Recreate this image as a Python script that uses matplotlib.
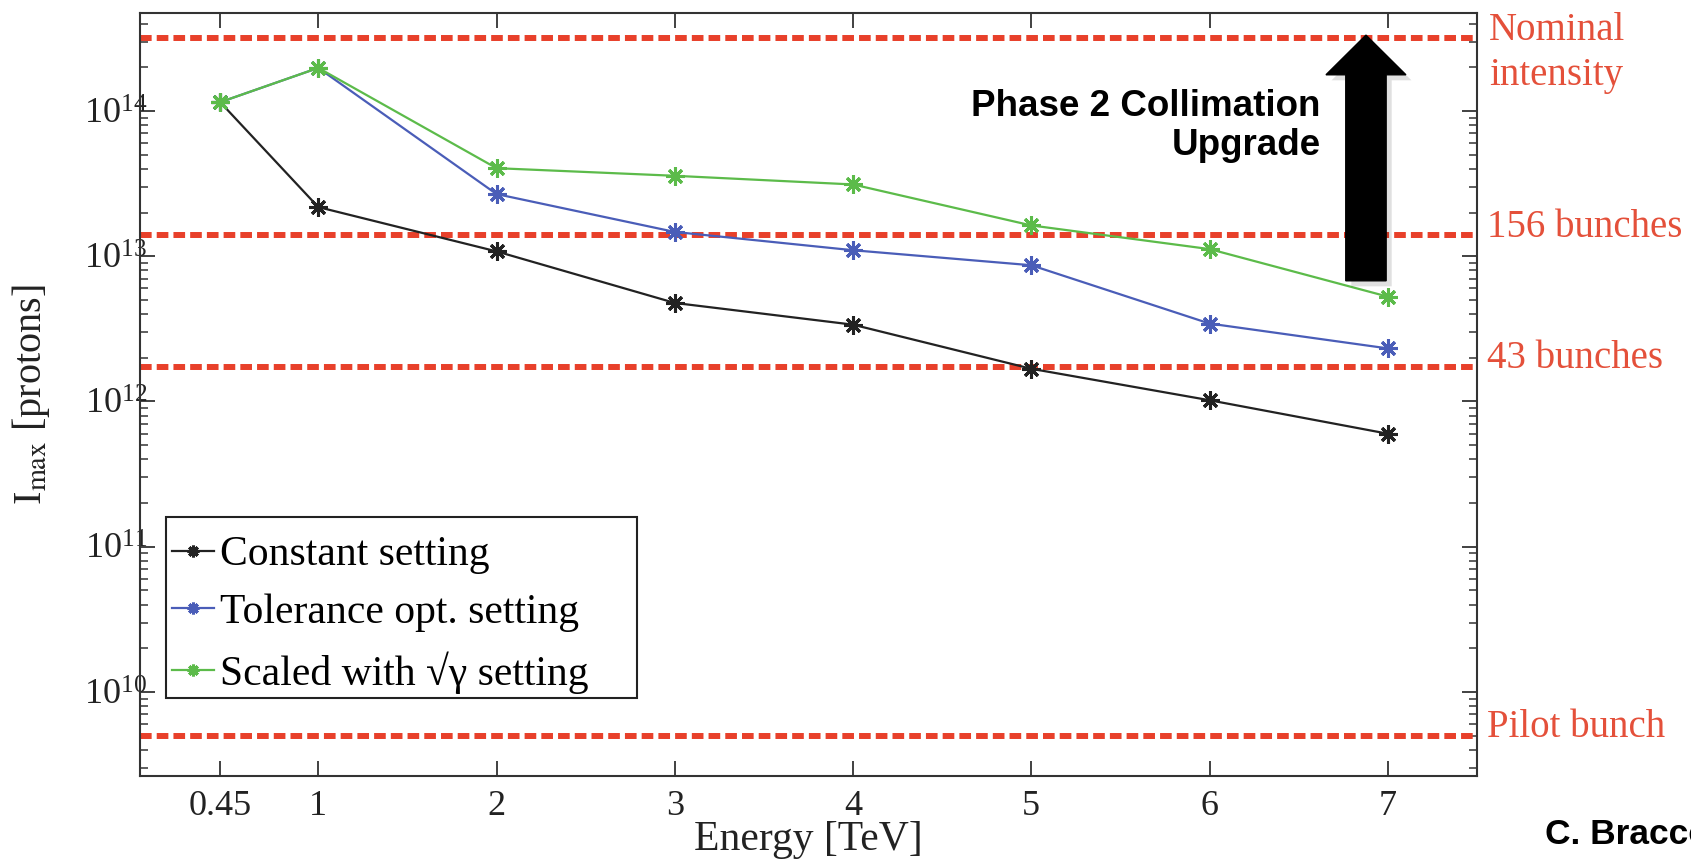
import matplotlib
matplotlib.use('Agg')
import matplotlib.pyplot as plt
import matplotlib.patheffects as pe
from matplotlib.patches import Polygon, Rectangle
from matplotlib.ticker import LogLocator, LogFormatterSciNotation, NullFormatter, FixedLocator, FixedFormatter

# ---- data ----
energy = [0.45, 1, 2, 3, 4, 5, 6, 7]
constant = [1.15e14, 2.18e13, 1.08e13, 4.77e12, 3.38e12, 1.68e12, 1.02e12, 6.0e11]
tolerance = [1.15e14, 1.98e14, 2.68e13, 1.47e13, 1.10e13, 8.67e12, 3.44e12, 2.32e12]
scaled = [1.15e14, 1.98e14, 4.04e13, 3.58e13, 3.12e13, 1.63e13, 1.12e13, 5.27e12]
series_labels = ['Constant setting', 'Tolerance opt. setting', 'Scaled with √γ setting']
ref_levels = [3.2e14, 1.4e13, 1.72e12, 5.0e9]
ref_labels = ['Nominal\nintensity', '156 bunches', '43 bunches', 'Pilot bunch']
x_ticks = [0.45, 1, 2, 3, 4, 5, 6, 7]
x_ticklabels = ['0.45', '1', '2', '3', '4', '5', '6', '7']

plt.rcParams['font.family'] = 'serif'
plt.rcParams['font.serif'] = ['Liberation Serif', 'DejaVu Serif']
plt.rcParams['mathtext.fontset'] = 'stix'

fig = plt.figure(figsize=(16.91, 8.65), dpi=100)
ax = fig.add_axes([0.0828, 0.1029, 0.7906, 0.8821])

red = '#E8402A'
red_txt = '#E4503A'
colors = ['#222222', '#4A5DB8', '#5CBB4A']
for vals, c, lab in zip([constant, tolerance, scaled], colors, series_labels):
    ax.plot(energy, vals, color=c, lw=1.6, marker=(8, 2, 0), ms=13, mew=2.2,
            mec=c, label=lab, zorder=3)

for lev in ref_levels:
    ax.axhline(lev, color=red, lw=4.3, dashes=(1.95, 0.85), zorder=2)

ax.set_yscale('log')
ax.set_xlim(0, 7.5)
ax.set_ylim(2.64e9, 4.73e14)
ax.xaxis.set_major_locator(FixedLocator(x_ticks))
ax.xaxis.set_major_formatter(FixedFormatter(x_ticklabels))
ax.yaxis.set_major_locator(LogLocator(base=10, numticks=20))
ax.yaxis.set_minor_locator(LogLocator(base=10, subs=range(2, 10), numticks=50))
ax.yaxis.set_minor_formatter(NullFormatter())
ax.yaxis.set_major_formatter(LogFormatterSciNotation())

ax.tick_params(axis='both', which='major', direction='in', length=10.5, width=1.3,
               top=True, right=True, labelsize=26, colors='#333333', labelcolor='#222222')
ax.tick_params(axis='x', which='major', pad=10)
ax.tick_params(axis='y', which='major', pad=-5)
ax.tick_params(axis='y', which='minor', direction='in', length=5.8, width=1.1,
               right=True, color='#333333')
for s in ax.spines.values():
    s.set_linewidth(1.5)
    s.set_color('#333333')

ax.set_xlabel('Energy [TeV]', fontsize=30, color='#222222', va='center')
ax.xaxis.set_label_coords(0.50, -0.084)
ax.set_ylabel(r'I$_{\mathrm{max}}$ [protons]', fontsize=29, color='#222222', va='center')
ax.yaxis.set_label_coords(-0.0815, 0.50)

# legend (frame drawn separately to match the wide box)
leg = ax.legend(loc='upper left', bbox_to_anchor=(0.0098, 0.3394), borderaxespad=0,
                fontsize=30, frameon=False, handlelength=1.0, handletextpad=0.15,
                numpoints=1, markerscale=0.65, labelspacing=0.46, borderpad=0.45)
leg.set_zorder(6)
ax.add_patch(Rectangle((0.0194, 0.1022), 0.3523, 0.2372, transform=ax.transAxes,
                       facecolor='white', edgecolor='#222222', lw=1.5, zorder=5.5))

# right-side labels
offsets = [-11.2, 5.5, 6.5, 5.8]
for lev, lab, dy in zip(ref_levels, ref_labels, offsets):
    ax.annotate(lab, xy=(1, lev), xycoords=('axes fraction', 'data'),
                xytext=(8.5 if '\n' in lab else 7.5, dy), textcoords='offset points',
                va='center', ha='left', fontsize=28, color=red_txt, linespacing=1.28,
                annotation_clip=False)

# arrow
cx, sh, hh = 0.917, 0.0151, 0.0299
tip, hb, bot = 0.971, 0.919, 0.649
arrow = Polygon([(cx - sh, bot), (cx + sh, bot), (cx + sh, hb), (cx + hh, hb),
                 (cx, tip), (cx - hh, hb), (cx - sh, hb)], closed=True,
                transform=ax.transAxes, facecolor='black', edgecolor='black', zorder=5,
                path_effects=[pe.SimplePatchShadow(offset=(4, -4), alpha=0.12), pe.Normal()])
ax.add_patch(arrow)

ax.text(0.883, 0.852, 'Phase 2 Collimation\nUpgrade', transform=ax.transAxes,
        ha='right', va='center', multialignment='right', fontsize=26.5,
        fontweight='bold', family='Liberation Sans', linespacing=1.15, color='black')

fig.text(0.9137, 0.0347, 'C. Bracco', ha='left', va='center', fontsize=25.5,
         fontweight='bold', family='Liberation Sans', color='black')

fig.savefig('out.png', dpi=100)
